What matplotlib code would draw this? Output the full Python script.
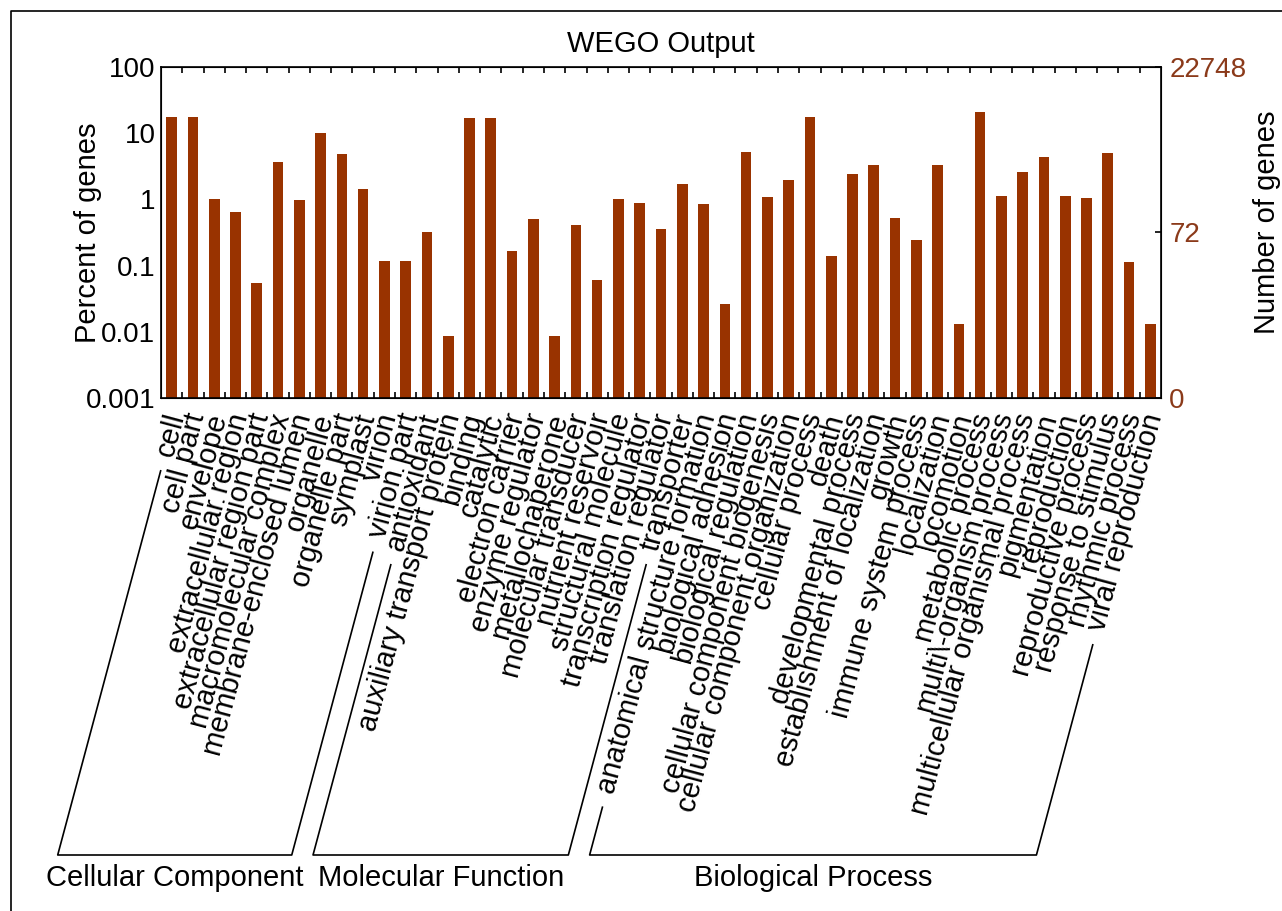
import numpy as np
import matplotlib
matplotlib.use("Agg")
import matplotlib.pyplot as plt
from matplotlib.lines import Line2D
from matplotlib.ticker import NullLocator
from matplotlib.transforms import ScaledTranslation, IdentityTransform
from matplotlib.font_manager import FontProperties

plt.rcParams['font.family'] = ['Liberation Sans', 'DejaVu Sans']

# GO terms per ontology
cellular_component = ["cell", "cell part", "envelope", "extracellular region",
                      "extracellular region part", "macromolecular complex",
                      "membrane-enclosed lumen", "organelle", "organelle part",
                      "symplast", "virion", "virion part"]
molecular_function = ["antioxidant", "auxiliary transport protein", "binding",
                      "catalytic", "electron carrier", "enzyme regulator",
                      "metallochaperone", "molecular transducer", "nutrient reservoir",
                      "structural molecule", "transcription regulator",
                      "translation regulator", "transporter"]
biological_process = ["anatomical structure formation", "biological adhesion",
                      "biological regulation", "cellular component biogenesis",
                      "cellular component organization", "cellular process", "death",
                      "developmental process", "establishment of localization", "growth",
                      "immune system process", "localization", "locomotion",
                      "metabolic process", "multi\\-organism process",
                      "multicellular organismal process", "pigmentation", "reproduction",
                      "reproductive process", "response to stimulus", "rhythmic process",
                      "viral reproduction"]
group_names = ["Cellular Component", "Molecular Function", "Biological Process"]

# percent of genes
cc_percent = [17.8, 17.8, 1.03, 0.65, 0.055, 3.7, 0.97, 10.2, 4.8, 1.45, 0.116, 0.116]
mf_percent = [0.32, 0.0086, 17.2, 17.2, 0.164, 0.50, 0.0086, 0.41, 0.06, 1.02,
              0.89, 0.355, 1.72]
bp_percent = [0.86, 0.026, 5.2, 1.08, 1.97, 17.8, 0.14, 2.43, 3.27, 0.52, 0.24,
              3.35, 0.0129, 21.1, 1.12, 2.57, 4.37, 1.12, 1.06, 5.0, 0.112, 0.0129]

total_genes = 22748
left_ticks = [100, 10, 1, 0.1, 0.01, 0.001]
left_labels = ["100", "10", "1", "0.1", "0.01", "0.001"]
right_counts = [22748, 72, 0]

BAR = "#993300"
BROWN = "#8b3a1a"
ANGLE = 75
FS = 21

terms = cellular_component + molecular_function + biological_process
percent = cc_percent + mf_percent + bp_percent
x = np.arange(len(terms))

W, H = 1282, 911
fig = plt.figure(figsize=(W / 100, H / 100), dpi=100)
ax = fig.add_axes([161 / W, 1 - 398 / H, 1000 / W, 331 / H])

ax.bar(x, percent, width=0.5, color=BAR, linewidth=0)
ax.set_yscale("log")
ax.set_ylim(0.001, 100)
ax.set_xlim(-0.5, len(terms) - 0.5)
ax.set_yticks(left_ticks, left_labels)
ax.yaxis.set_minor_locator(NullLocator())
ax.tick_params(axis="y", length=0, pad=4, labelsize=20)

# boundary ticks, inward on top and bottom
ax.set_xticks(x[:-1] + 0.5, minor=True)
ax.tick_params(axis="x", which="minor", direction="in", length=4, width=1.2,
               top=True, bottom=True)
ax.set_xticks(x, terms, rotation=ANGLE, ha="right", va="center",
              rotation_mode="anchor", fontsize=FS)
ax.tick_params(axis="x", which="major", length=0, pad=11.5)
for lbl in ax.get_xticklabels():
    lbl.set_transform(lbl.get_transform() + ScaledTranslation(0.045, 0, fig.dpi_scale_trans))

for s in ax.spines.values():
    s.set_linewidth(1.2)

ax.set_title("WEGO Output", fontsize=FS, pad=11)
ax.set_ylabel("Percent of genes", fontsize=FS)
ax.yaxis.set_label_coords(-0.059, 0.5)

# right axis: gene counts on the same log scale
ax2 = ax.twinx()
ax2.set_yscale("log")
ax2.set_ylim(0.001, 100)
ax2.set_yticks([max(c / total_genes * 100, 0.001) for c in right_counts],
               [str(c) for c in right_counts])
ax2.yaxis.set_minor_locator(NullLocator())
ax2.tick_params(axis="y", direction="in", length=4, width=1.2, pad=6,
                labelsize=20, labelcolor=BROWN)
ax2.set_ylabel("Number of genes", fontsize=FS)
ax2.yaxis.set_label_coords(1.092, 0.532)

# brackets under each ontology group
renderer = fig.canvas.get_renderer()
prop = FontProperties(family=['Liberation Sans', 'DejaVu Sans'], size=FS)
dx, dy = np.cos(np.radians(ANGLE)), np.sin(np.radians(ANGLE))
y_anchor = ax.transAxes.transform((0, 0))[1] - 15
y_base = H - 855


def slant(i):
    ax_x = ax.transData.transform((i, 1))[0] + 4.5
    w = renderer.get_text_width_height_descent(terms[i], prop, ismath=False)[0]
    d = w + 16
    x0, y0 = ax_x - d * dx, y_anchor - d * dy
    x1 = x0 - (y0 - y_base) * dx / dy
    return x0, y0, x1


start = 0
for name, grp in zip(group_names, [cellular_component, molecular_function, biological_process]):
    a, b = start, start + len(grp) - 1
    lx0, ly0, lx1 = slant(a)
    rx0, ry0, rx1 = slant(b)
    fig.add_artist(Line2D([lx0, lx1, rx1, rx0], [ly0, y_base, y_base, ry0],
                          transform=IdentityTransform(), color="black", lw=1.2))
    fig.text((lx1 + rx1) / 2 / W, 1 - 878 / H, name, fontsize=FS,
             ha="center", va="center")
    start = b + 1

# frame around the figure
fig.add_artist(Line2D([11 / W, 11 / W, 1], [0, 1 - 11 / H, 1 - 11 / H],
                      transform=fig.transFigure, color="black", lw=1.2))

fig.savefig("out.png", dpi=100)
